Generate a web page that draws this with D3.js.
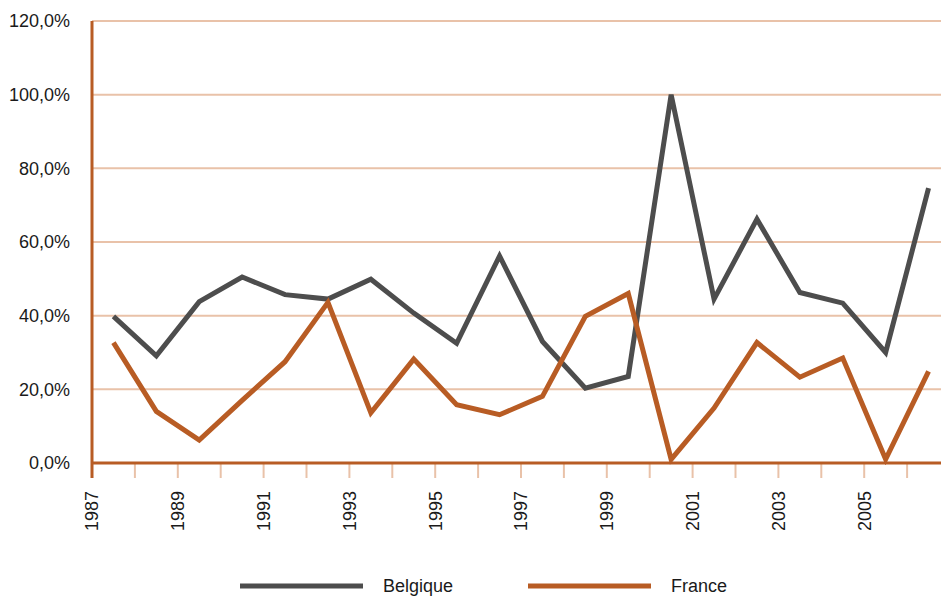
<!DOCTYPE html>
<html>
<head>
<meta charset="utf-8">
<script src="https://cdn.jsdelivr.net/npm/d3@7"></script>
<style>
  body { margin: 0; background: #fff; }
  svg text { font-family: "Liberation Sans", Arial, sans-serif; fill: #1a1a1a; }
</style>
</head>
<body>
<script>
var years = d3.range(1987, 2007);
var belgique = [39.8, 29.1, 43.8, 50.5, 45.7, 44.5, 49.9, 40.7, 32.5, 56.2,
  33.0, 20.3, 23.5, 100.0, 44.5, 66.2, 46.3, 43.4, 30.0, 74.6];
var france = [32.7, 14.0, 6.2, 17.0, 27.5, 43.6, 13.6, 28.2, 15.8, 13.1,
  18.1, 39.8, 46.0, 1.0, 14.9, 32.7, 23.3, 28.5, 1.0, 24.9];
var yTicks = [0, 20, 40, 60, 80, 100, 120];
var seriesNames = ['Belgique', 'France'];
var seriesColors = ['#4d4d4d', '#b85c24'];

var width = 941;
var height = 598;
var axisColor = '#b85c24';
var gridColor = '#e9c2a9';

var svg = d3.select('body').append('svg')
  .attr('width', width)
  .attr('height', height);

var x = d3.scaleBand()
  .domain(years)
  .range([92, 950]);

var y = d3.scaleLinear()
  .domain([0, 120])
  .range([463, 21]);

// gridlines
svg.append('g')
  .selectAll('line')
  .data(yTicks.filter(function(d) { return d > 0; }))
  .enter().append('line')
    .attr('x1', 92)
    .attr('x2', width)
    .attr('y1', y)
    .attr('y2', y)
    .attr('stroke', gridColor)
    .attr('stroke-width', 2);

// y labels
svg.append('g')
  .selectAll('text')
  .data(yTicks)
  .enter().append('text')
    .attr('x', 70)
    .attr('y', y)
    .attr('dy', '0.36em')
    .attr('text-anchor', 'end')
    .style('font-size', '18px')
    .text(function(d) { return d.toFixed(1).replace('.', ',') + '%'; });

// x ticks
svg.append('g')
  .selectAll('line')
  .data(years.slice(1))
  .enter().append('line')
    .attr('x1', function(d) { return x(d); })
    .attr('x2', function(d) { return x(d); })
    .attr('y1', 464)
    .attr('y2', 478)
    .attr('stroke', gridColor)
    .attr('stroke-width', 2);

// x labels (every other year)
svg.append('g')
  .selectAll('text')
  .data(years.filter(function(d) { return (d - 1987) % 2 === 0; }))
  .enter().append('text')
    .attr('transform', function(d) {
      return 'translate(' + x(d) + ',491) rotate(-90)';
    })
    .attr('dy', '0.36em')
    .attr('text-anchor', 'end')
    .style('font-size', '18px')
    .text(function(d) { return d; });

// axes lines
svg.append('line')
  .attr('x1', 92).attr('x2', width)
  .attr('y1', y(0)).attr('y2', y(0))
  .attr('stroke', axisColor)
  .attr('stroke-width', 3);

svg.append('line')
  .attr('x1', 92).attr('x2', 92)
  .attr('y1', y(120)).attr('y2', 478)
  .attr('stroke', axisColor)
  .attr('stroke-width', 3);

var line = d3.line()
  .x(function(d, i) { return x(years[i]) + x.bandwidth() / 2; })
  .y(function(d) { return y(d); });

[belgique, france].forEach(function(values, i) {
  svg.append('path')
    .datum(values)
    .attr('d', line)
    .attr('fill', 'none')
    .attr('stroke', seriesColors[i])
    .attr('stroke-width', 5)
    .attr('stroke-linejoin', 'miter');
});

// legend
var legendX = [240, 528];
var legend = svg.append('g')
  .selectAll('g')
  .data(seriesNames)
  .enter().append('g')
    .attr('transform', function(d, i) { return 'translate(' + legendX[i] + ',586)'; });

legend.append('line')
  .attr('x1', 0)
  .attr('x2', 123)
  .attr('stroke', function(d, i) { return seriesColors[i]; })
  .attr('stroke-width', 5);

legend.append('text')
  .attr('x', 143)
  .attr('dy', '0.36em')
  .style('font-size', '18px')
  .text(function(d) { return d; });
</script>
</body>
</html>
